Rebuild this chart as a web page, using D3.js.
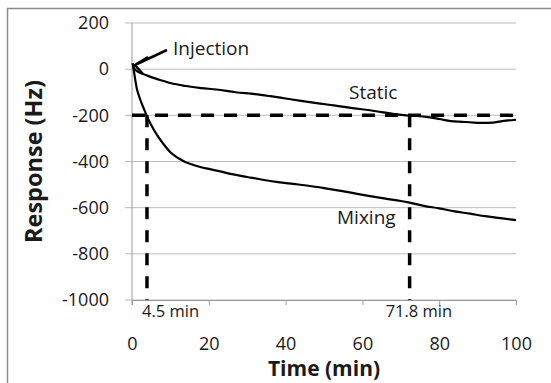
<!DOCTYPE html>
<html>
<head>
<meta charset="utf-8">
<script src="https://d3js.org/d3.v7.min.js"></script>
<style>
body { margin: 0; background: #fff; }
text { font-family: "Open Sans", sans-serif; fill: #1a1a1a; }
</style>
</head>
<body>
<div id="chart"></div>
<script>

//chart values
var staticTime     = [0.2, 0.5, 1, 2, 4, 6, 8, 10, 14, 18, 22, 27, 32, 36, 40, 44, 49, 53, 57, 62, 65, 68, 71.4, 74, 77, 80, 83, 86, 88, 91, 94, 96, 98, 100];
var staticResponse = [25, 5, -5, -15, -28, -40, -50, -60, -73, -82, -88, -100, -108, -117, -127, -137, -149, -158, -168, -178, -186, -193, -200, -203, -208, -216, -225, -228, -230, -233, -232, -226, -222, -219];

var mixingTime     = [0.2, 0.6, 1.2, 2, 3, 4, 5, 6.5, 8, 10, 12, 14, 16, 18, 20, 23, 26, 30, 34, 38, 42, 46, 50, 54, 58, 62, 66, 70, 72, 76, 80, 84, 88, 92, 96, 100];
var mixingResponse = [25, -20, -80, -125, -168, -208, -242, -285, -320, -360, -385, -403, -415, -425, -432, -443, -455, -467, -479, -489, -497, -505, -515, -526, -538, -550, -561, -571, -577, -592, -603, -616, -626, -637, -645, -654];

var xTicks = [0, 20, 40, 60, 80, 100];
var yTicks = [200, 0, -200, -400, -600, -800, -1000];

//dashed guide lines
var threshold    = [-200];
var markerTimes  = [3.9, 72.3];
var markerLabels = ["4.5 min", "71.8 min"];

// Set the dimensions of the canvas / graph
var margin = {top: 23, left: 132};
var width = 384;
var height = 277;

var svg = d3.select("#chart")
 .append("svg")
  .attr("width", 551)
  .attr("height", 383);

//outer frame (runs off the right and bottom edges)
svg.append("rect")
 .attr("x", 7.5)
 .attr("y", 8.5)
 .attr("width", 600)
 .attr("height", 400)
 .attr("fill", "none")
 .attr("stroke", "#8c8c8c")
 .attr("stroke-width", 1.5);

var xScale = d3.scaleLinear().domain([0, 100]).range([0, width]);
var yScale = d3.scaleLinear().domain([-1000, 200]).range([height, 0]);

var g = svg.append("g")
 .attr("transform", "translate(" + margin.left + "," + margin.top + ")");

//horizontal gridlines
g.selectAll(".grid")
 .data(yTicks)
 .enter()
 .append("line")
 .attr("class", "grid")
 .attr("x1", -7)
 .attr("x2", width)
 .attr("y1", function(d) { return yScale(d); })
 .attr("y2", function(d) { return yScale(d); })
 .attr("stroke", "#bcbcbc")
 .attr("stroke-width", 1);

//y axis labels
var yAxis = g.append("g")
 .call(d3.axisLeft(yScale).tickValues(yTicks).tickFormat(function(d){ return d; }).tickSize(0).tickPadding(23));
yAxis.select(".domain").remove();
yAxis.selectAll("text")
 .style("font-size", "18px")
 .style("font-family", "Open Sans")
 .attr("fill", "#1a1a1a");

//x axis
var xAxis = g.append("g")
 .attr("transform", "translate(0," + height + ")")
 .call(d3.axisBottom(xScale).tickValues(xTicks).tickFormat(function(d){ return d; }).tickSize(5).tickSizeOuter(0).tickPadding(32));
xAxis.select(".domain").attr("stroke", "#9a9a9a");
xAxis.selectAll(".tick line").attr("stroke", "#9a9a9a");
xAxis.selectAll("text")
 .style("font-size", "18px")
 .style("font-family", "Open Sans")
 .attr("fill", "#1a1a1a");

//vertical axis line
g.append("line")
 .attr("x1", 0)
 .attr("x2", 0)
 .attr("y1", 0)
 .attr("y2", height + 5)
 .attr("stroke", "#9a9a9a");

//dashed lines
g.selectAll(".hdash")
 .data(threshold)
 .enter()
 .append("line")
 .attr("x1", xScale(0))
 .attr("x2", xScale(100))
 .attr("y1", function(d) { return yScale(d); })
 .attr("y2", function(d) { return yScale(d); })
 .attr("stroke", "#000")
 .attr("stroke-width", 3.5)
 .attr("stroke-dasharray", "13,10");

g.selectAll(".vdash")
 .data(markerTimes)
 .enter()
 .append("line")
 .attr("x1", function(d) { return xScale(d); })
 .attr("x2", function(d) { return xScale(d); })
 .attr("y1", yScale(threshold[0]))
 .attr("y2", yScale(-1000))
 .attr("stroke", "#000")
 .attr("stroke-width", 3.5)
 .attr("stroke-dasharray", "12,11");

//curves
var line = d3.line()
 .x(function(d) { return xScale(d[0]); })
 .y(function(d) { return yScale(d[1]); })
 .curve(d3.curveMonotoneX);

g.append("path")
 .datum(d3.zip(staticTime, staticResponse))
 .attr("d", line)
 .attr("fill", "none")
 .attr("stroke", "#000")
 .attr("stroke-width", 2.2);

g.append("path")
 .datum(d3.zip(mixingTime, mixingResponse))
 .attr("d", line)
 .attr("fill", "none")
 .attr("stroke", "#000")
 .attr("stroke-width", 2.2);

//marker labels
var markerOffset = [-5, -24];
g.selectAll(".mlabel")
 .data(markerTimes)
 .enter()
 .append("text")
 .attr("x", function(d, i) { return xScale(d) + markerOffset[i]; })
 .attr("y", 293.5)
 .style("font-size", "16.5px")
 .text(function(d, i) { return markerLabels[i]; });

//annotation text
svg.append("text")
 .attr("x", 173)
 .attr("y", 55)
 .style("font-size", "19px")
 .text("Injection");

svg.append("text")
 .attr("x", 349)
 .attr("y", 99)
 .style("font-size", "19px")
 .text("Static");

svg.append("text")
 .attr("x", 337)
 .attr("y", 224)
 .style("font-size", "19px")
 .text("Mixing");

//arrow
svg.append("line")
 .attr("x1", 167)
 .attr("y1", 50)
 .attr("x2", 137)
 .attr("y2", 64)
 .attr("stroke", "#000")
 .attr("stroke-width", 2.5);
svg.append("polyline")
 .attr("points", "148,57 135,65 143,74")
 .attr("fill", "none")
 .attr("stroke", "#000")
 .attr("stroke-width", 2.5);

//axis titles
svg.append("text")
 .attr("transform", "translate(42,161.5) rotate(-90)")
 .attr("text-anchor", "middle")
 .style("font-size", "23.5px")
 .style("font-weight", "bold")
 .text("Response (Hz)");

svg.append("text")
 .attr("x", 324)
 .attr("y", 376)
 .attr("text-anchor", "middle")
 .style("font-size", "21px")
 .style("font-weight", "bold")
 .text("Time (min)");

</script>
</body>
</html>
